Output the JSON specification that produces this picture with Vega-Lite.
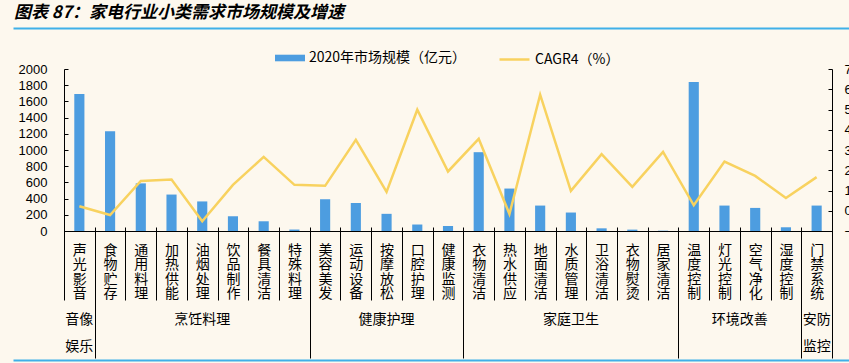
{
  "$schema": "https://vega.github.io/schema/vega-lite/v6.json",
  "width": 768,
  "height": 162,
  "autosize": {"type": "none"},
  "padding": {"left": 64, "top": 69, "right": 17, "bottom": 132},
  "background": "#fdf8ee",
  "title": {
    "text": "图表 87：家电行业小类需求市场规模及增速",
    "anchor": "start",
    "frame": "group",
    "orient": "top",
    "dx": -50,
    "offset": -2,
    "baseline": "middle",
    "font": "Noto Sans CJK SC",
    "fontSize": 17,
    "fontStyle": "italic",
    "fontWeight": "bold",
    "color": "#000000"
  },
  "data": {
    "values": [
      {"cat": "声光影音", "size": 1690, "cagr": 0.22},
      {"cat": "食物贮存", "size": 1230, "cagr": -0.21},
      {"cat": "通用料理", "size": 588, "cagr": 1.47},
      {"cat": "加热供能", "size": 450, "cagr": 1.54},
      {"cat": "油烟处理", "size": 365, "cagr": -0.52},
      {"cat": "饮品制作", "size": 182, "cagr": 1.28},
      {"cat": "餐具清洁", "size": 120, "cagr": 2.66},
      {"cat": "特殊料理", "size": 18, "cagr": 1.28},
      {"cat": "美容美发", "size": 392, "cagr": 1.23},
      {"cat": "运动设备", "size": 346, "cagr": 3.5},
      {"cat": "按摩放松", "size": 212, "cagr": 0.93},
      {"cat": "口腔护理", "size": 80, "cagr": 4.99},
      {"cat": "健康监测", "size": 62, "cagr": 1.94},
      {"cat": "衣物清洁", "size": 973, "cagr": 3.55},
      {"cat": "热水供应", "size": 524, "cagr": -0.16},
      {"cat": "地面清洁", "size": 314, "cagr": 5.73},
      {"cat": "水质管理", "size": 228, "cagr": 0.98},
      {"cat": "卫浴清洁", "size": 33, "cagr": 2.79},
      {"cat": "衣物熨烫", "size": 17, "cagr": 1.18},
      {"cat": "居家清洁", "size": 4, "cagr": 2.91},
      {"cat": "温度控制", "size": 1839, "cagr": 0.27},
      {"cat": "灯光控制", "size": 314, "cagr": 2.43},
      {"cat": "空气净化", "size": 285, "cagr": 1.72},
      {"cat": "湿度控制", "size": 46, "cagr": 0.63},
      {"cat": "门禁系统", "size": 314, "cagr": 1.66}
    ]
  },
  "layer": [
    {
      "mark": {"type": "bar", "width": {"band": 0.33}},
      "encoding": {
        "x": {
          "field": "cat", "type": "nominal", "sort": null,
          "scale": {"type": "band", "paddingInner": 0, "paddingOuter": 0},
          "axis": {
            "orient": "bottom", "title": null,
            "domainColor": "#000000", "domainWidth": 1,
            "ticks": false, "tickSize": 0,
            "labelExpr": "datum.value === '声光影音' ? ['音像','娱乐'] : datum.value === '油烟处理' ? '烹饪料理' : datum.value === '按摩放松' ? '健康护理' : datum.value === '水质管理' ? '家庭卫生' : datum.value === '灯光控制' ? '环境改善' : datum.value === '门禁系统' ? ['安防','监控'] : ''",
            "labelAngle": 0, "labelBaseline": "top", "labelAlign": "center",
            "labelPadding": 81,
            "labelOffset": {"condition": {"test": "datum.value === '灯光控制'", "value": 15.36}, "value": 0},
            "labelFont": "Noto Sans CJK SC", "labelFontSize": 14, "labelLineHeight": 27,
            "labelColor": "#000000", "labelOverlap": false, "labelBound": false, "labelFlush": false
          }
        },
        "y": {
          "field": "size", "type": "quantitative",
          "scale": {"domain": [0, 2000]},
          "axis": {
            "orient": "left", "title": null, "grid": false,
            "values": [0, 200, 400, 600, 800, 1000, 1200, 1400, 1600, 1800, 2000],
            "format": "d",
            "domainColor": "#000000", "tickColor": "#000000", "tickSize": -4,
            "labelPadding": 21, "labelFont": "Liberation Sans", "labelFontSize": 13, "labelColor": "#000000"
          }
        },
        "fill": {
          "datum": "2020年市场规模（亿元）",
          "scale": {"range": ["#4d9de0"]},
          "legend": {
            "orient": "none", "legendX": 211, "legendY": -26, "direction": "horizontal",
            "title": null, "symbolSize": 900, "symbolStrokeWidth": 0,
            "symbolType": "M-1,-0.22H1V0.22H-1Z", "symbolOpacity": 1,
            "labelFont": "Noto Sans CJK SC", "labelFontSize": 14, "labelColor": "#000000",
            "labelOffset": 4, "labelLimit": 400
          }
        }
      }
    },
    {
      "mark": {"type": "line", "strokeWidth": 2.5},
      "encoding": {
        "x": {
          "field": "cat", "type": "nominal", "sort": null,
          "scale": {"type": "band", "paddingInner": 0, "paddingOuter": 0},
          "axis": {
            "orient": "bottom", "offset": -4, "title": null,
            "domain": false,
            "tickBand": "extent", "tickColor": "#000000", "tickWidth": 1,
            "tickSize": {"condition": {"test": "indexof(['声光影音','特殊料理','健康监测','居家清洁','湿度控制','门禁系统'], datum.value) >= 0", "value": 131}, "value": 73},
            "labelPadding": {"condition": {"test": "indexof(['声光影音','特殊料理','健康监测','居家清洁','湿度控制','门禁系统'], datum.value) >= 0", "value": -115}, "value": -57},
            "labelExpr": "split(datum.label, '')",
            "labelAngle": 0, "labelBaseline": "top", "labelAlign": "center",
            "labelFont": "Noto Sans CJK SC", "labelFontSize": 14, "labelLineHeight": 14.5,
            "labelColor": "#000000", "labelOverlap": false, "labelBound": false, "labelFlush": false
          }
        },
        "y": {
          "field": "cagr", "type": "quantitative",
          "scale": {"domain": [-1, 7]},
          "axis": {
            "orient": "right", "title": null, "grid": false,
            "values": [-1, 0, 1, 2, 3, 4, 5, 6, 7],
            "domainColor": "#000000", "tickColor": "#000000", "tickSize": -4,
            "labelPadding": 16, "labelFont": "Liberation Sans", "labelFontSize": 13, "labelColor": "#000000"
          }
        },
        "stroke": {
          "datum": "CAGR4（%）",
          "scale": {"range": ["#f8d25f"]},
          "legend": {
            "orient": "none", "legendX": 434, "legendY": -26, "direction": "horizontal",
            "title": null, "symbolSize": 900, "symbolStrokeWidth": 2.5, "symbolType": "stroke",
            "labelFont": "Noto Sans CJK SC", "labelFontSize": 14, "labelColor": "#000000",
            "labelOffset": 4, "labelLimit": 400
          }
        }
      }
    },
    {
      "mark": {"type": "bar", "opacity": 0},
      "encoding": {
        "x": {
          "field": "cat", "type": "nominal", "sort": null,
          "scale": {"type": "band", "paddingInner": 0, "paddingOuter": 0, "range": [-51, 785]},
          "axis": {
            "orient": "top", "offset": 41, "title": null,
            "domainColor": "#3fb0e8", "domainWidth": 2,
            "ticks": false, "labels": false
          }
        },
        "y": {"field": "size", "type": "quantitative", "axis": null}
      }
    },
    {
      "mark": {"type": "bar", "opacity": 0},
      "encoding": {
        "x": {
          "field": "cat", "type": "nominal", "sort": null,
          "scale": {"type": "band", "paddingInner": 0, "paddingOuter": 0, "range": [-51, 785]},
          "axis": {
            "orient": "bottom", "offset": 129, "title": null,
            "domainColor": "#3fb0e8", "domainWidth": 2,
            "ticks": false, "labels": false
          }
        },
        "y": {"field": "size", "type": "quantitative", "axis": null}
      }
    }
  ],
  "resolve": {"scale": {"x": "independent", "y": "independent"}, "axis": {"x": "independent"}},
  "config": {"view": {"stroke": null}}
}
